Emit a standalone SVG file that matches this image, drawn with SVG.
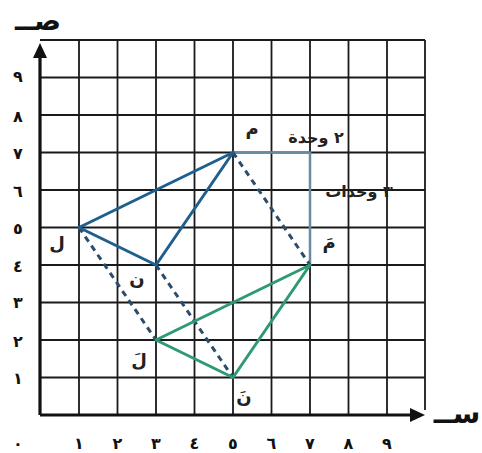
<svg xmlns="http://www.w3.org/2000/svg" width="482" height="453" viewBox="0 0 482 453">
<defs>
<style>
.grid{stroke:#1a1a1a;stroke-width:1.8;fill:none}
.axis{stroke:#111;stroke-width:3.2;fill:none}
.num{font-family:"DejaVu Sans",sans-serif;font-size:16px;font-weight:bold;fill:#111;text-anchor:middle;dominant-baseline:central}
.lbl{font-family:"DejaVu Sans",sans-serif;font-size:18px;font-weight:bold;fill:#222;text-anchor:middle;dominant-baseline:central}
.big{font-family:"DejaVu Sans",sans-serif;font-size:28px;font-weight:bold;fill:#111;text-anchor:middle;dominant-baseline:central}
.unit{font-family:"DejaVu Sans",sans-serif;font-size:16px;font-weight:bold;fill:#222;text-anchor:middle;dominant-baseline:central;direction:rtl}
.blue{stroke:#1f5f8e;stroke-width:3;fill:none;stroke-linejoin:round}
.green{stroke:#2f9a72;stroke-width:3;fill:none;stroke-linejoin:round}
.dash{stroke:#2b4d6b;stroke-width:3;stroke-dasharray:6 5;fill:none}
.guide{stroke:#6a8aa2;stroke-width:2.5;fill:none}
</style>
</defs>
<rect width="482" height="453" fill="#fff"/>
<g id="grid">
<path class="grid" d="M79 40V415M117.5 40V415M156 40V415M194.5 40V415M233 40V415M271.5 40V415M310 40V415M348.5 40V415M387 40V415M425 40V410M40 40H425M40 77.5H425M40 115H425M40 152.5H425M40 190H425M40 227.5H425M40 265H425M40 302.5H425M40 340H425M40 377.5H425"/>
</g>
<g id="axes">
<path class="axis" d="M40 415V55M40 415H412"/>
<polygon points="40,43 33,58 47,58" fill="#111"/>
<polygon points="425,415 410,408 410,422" fill="#111"/>
<text class="big" x="38" y="20">صــ</text>
<text class="big" x="457" y="413">ســ</text>
</g>
<g id="y-labels">
<text class="num" x="18" y="76">٩</text>
<text class="num" x="18" y="116">٨</text>
<text class="num" x="18" y="153">٧</text>
<text class="num" x="18" y="191">٦</text>
<text class="num" x="18" y="228">٥</text>
<text class="num" x="18" y="266">٤</text>
<text class="num" x="18" y="302">٣</text>
<text class="num" x="18" y="341">٢</text>
<text class="num" x="18" y="378">١</text>
<text class="num" x="18" y="443">٠</text>
</g>
<g id="x-labels">
<text class="num" x="79" y="443">١</text>
<text class="num" x="117.5" y="443">٢</text>
<text class="num" x="156" y="443">٣</text>
<text class="num" x="194.5" y="443">٤</text>
<text class="num" x="233" y="443">٥</text>
<text class="num" x="271.5" y="443">٦</text>
<text class="num" x="310" y="443">٧</text>
<text class="num" x="348.5" y="443">٨</text>
<text class="num" x="387" y="443">٩</text>
</g>
<g id="connectors">
<path class="guide" d="M233 152.5H310V265"/>
<path class="dash" d="M79 227.5L156 340"/>
<path class="dash" d="M156 265L233 377.5"/>
<path class="dash" d="M233 152.5L310 265"/>
</g>
<g id="triangle-LMN">
<polygon class="blue" points="79,227.5 233,152.5 156,265"/>
</g>
<g id="triangle-image">
<polygon class="green" points="156,340 310,265 233,377.5"/>
</g>
<g id="point-labels">
<text class="lbl" x="252" y="128">م</text>
<text class="lbl" x="329" y="242">مَ</text>
<text class="lbl" x="57" y="243">ل</text>
<text class="lbl" x="137" y="278">ن</text>
<text class="lbl" x="139" y="360">لَ</text>
<text class="lbl" x="244" y="396">نَ</text>
</g>
<g id="unit-labels">
<text class="unit" x="316" y="137">٢ وحدة</text>
<text class="unit" x="359" y="191">٣ وحدات</text>
</g>
</svg>
